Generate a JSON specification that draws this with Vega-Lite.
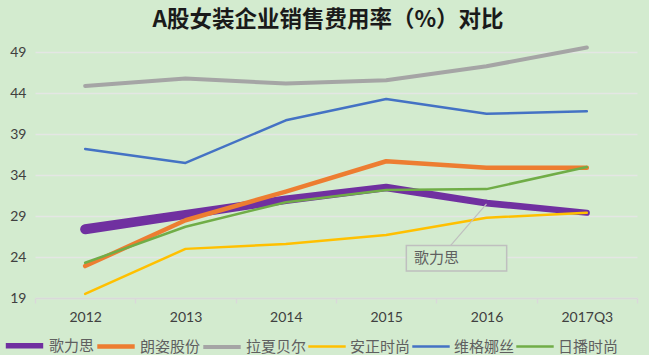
{
  "$schema": "https://vega.github.io/schema/vega-lite/v6.json",
  "width": 602,
  "height": 262,
  "autosize": "none",
  "padding": {"left": 35, "top": 36, "right": 12, "bottom": 57},
  "background": "#d3ebcf",
  "title": {"text": "A股女装企业销售费用率（%）对比", "fontSize": 22.5, "font": "Noto Sans CJK SC", "fontWeight": "bold", "color": "#1a1a1a", "anchor": "middle", "offset": 5, "dx": -8},
  "config": {"view": {"stroke": null}},
  "datasets": {
    "main": [
      {"year": "2012", "company": "歌力思", "rate": 27.4},
      {"year": "2013", "company": "歌力思", "rate": 29.2},
      {"year": "2014", "company": "歌力思", "rate": 31.0},
      {"year": "2015", "company": "歌力思", "rate": 32.5},
      {"year": "2016", "company": "歌力思", "rate": 30.6},
      {"year": "2017Q3", "company": "歌力思", "rate": 29.4},
      {"year": "2012", "company": "朗姿股份", "rate": 22.9},
      {"year": "2013", "company": "朗姿股份", "rate": 28.5},
      {"year": "2014", "company": "朗姿股份", "rate": 32.0},
      {"year": "2015", "company": "朗姿股份", "rate": 35.7},
      {"year": "2016", "company": "朗姿股份", "rate": 34.9},
      {"year": "2017Q3", "company": "朗姿股份", "rate": 34.9},
      {"year": "2012", "company": "拉夏贝尔", "rate": 44.9},
      {"year": "2013", "company": "拉夏贝尔", "rate": 45.8},
      {"year": "2014", "company": "拉夏贝尔", "rate": 45.2},
      {"year": "2015", "company": "拉夏贝尔", "rate": 45.6},
      {"year": "2016", "company": "拉夏贝尔", "rate": 47.3},
      {"year": "2017Q3", "company": "拉夏贝尔", "rate": 49.6},
      {"year": "2012", "company": "安正时尚", "rate": 19.5},
      {"year": "2013", "company": "安正时尚", "rate": 25.0},
      {"year": "2014", "company": "安正时尚", "rate": 25.6},
      {"year": "2015", "company": "安正时尚", "rate": 26.7},
      {"year": "2016", "company": "安正时尚", "rate": 28.8},
      {"year": "2017Q3", "company": "安正时尚", "rate": 29.4},
      {"year": "2012", "company": "维格娜丝", "rate": 37.2},
      {"year": "2013", "company": "维格娜丝", "rate": 35.5},
      {"year": "2014", "company": "维格娜丝", "rate": 40.7},
      {"year": "2015", "company": "维格娜丝", "rate": 43.3},
      {"year": "2016", "company": "维格娜丝", "rate": 41.5},
      {"year": "2017Q3", "company": "维格娜丝", "rate": 41.8},
      {"year": "2012", "company": "日播时尚", "rate": 23.3},
      {"year": "2013", "company": "日播时尚", "rate": 27.7},
      {"year": "2014", "company": "日播时尚", "rate": 30.7},
      {"year": "2015", "company": "日播时尚", "rate": 32.2},
      {"year": "2016", "company": "日播时尚", "rate": 32.3},
      {"year": "2017Q3", "company": "日播时尚", "rate": 35.0}
    ],
    "note": [
      {"year": "2016", "label": "歌力思", "rate": 30.5, "top": 25.4, "bottom": 22.3, "mid": 23.85}
    ]
  },
  "encoding": {
    "x": {"field": "year", "type": "ordinal", "scale": {"type": "band", "paddingInner": 0, "paddingOuter": 0},
          "axis": {"title": null, "labelAngle": 0, "labelFont": "Lato", "labelFontSize": 14, "labelColor": "#404040", "labelPadding": 7, "domainColor": "#d9d9d9", "domainWidth": 1.5, "tickColor": "#d9d9d9", "tickSize": 5, "tickWidth": 1.5, "tickBand": "extent", "grid": false}},
    "y": {"field": "rate", "type": "quantitative", "scale": {"domain": [19, 51], "nice": false, "zero": false},
          "axis": {"title": null, "values": [19, 24, 29, 34, 39, 44, 49], "labelFont": "Lato", "labelFontSize": 14, "labelColor": "#404040", "labelPadding": 9, "domain": false, "ticks": false, "gridColor": "#e4e6e4", "gridWidth": 1.5}}
  },
  "layer": [
    {
      "data": {"name": "main"},
      "transform": [{"filter": "datum.company === '歌力思'"}],
      "mark": {"type": "trail"},
      "encoding": {
        "color": {"field": "company", "type": "nominal"},
        "size": {"field": "year", "type": "ordinal", "scale": {"type": "ordinal", "domain": ["2012", "2013", "2014", "2015", "2016", "2017Q3"], "range": [10, 9.2, 8.4, 7.6, 6.8, 6]}, "legend": null},
        "order": {"field": "year"}
      }
    },
    {
      "data": {"name": "main"},
      "transform": [{"filter": "datum.company !== '歌力思'"}],
      "mark": {"type": "line", "strokeCap": "round", "strokeJoin": "round"},
      "encoding": {
        "color": {"field": "company", "type": "nominal",
                  "scale": {"domain": ["歌力思", "朗姿股份", "拉夏贝尔", "安正时尚", "维格娜丝", "日播时尚"], "range": ["#7030a0", "#ed7d31", "#a5a5a5", "#ffc000", "#4472c4", "#70ad47"]},
                  "legend": {"title": null, "orient": "none", "legendX": -32, "legendY": 288, "direction": "horizontal", "symbolType": "stroke", "symbolSize": 1400, "labelFont": "Noto Sans CJK SC", "labelFontSize": 15, "labelColor": "#5f5f5f", "labelOffset": 3, "columnPadding": -8, "symbolStrokeColor": {"expr": "datum.value"}}},
        "strokeWidth": {"field": "company", "type": "nominal",
                  "scale": {"type": "ordinal", "domain": ["歌力思", "朗姿股份", "拉夏贝尔", "安正时尚", "维格娜丝", "日播时尚"], "range": [5.5, 4.5, 4, 2.5, 2.5, 2.5]}},
        "order": {"field": "year"}
      }
    },
    {
      "data": {"name": "note"},
      "mark": {"type": "rule", "color": "#bfbfbf", "strokeWidth": 1.2, "x2Offset": -36},
      "encoding": {
        "x2": {"field": "year"},
        "y2": {"field": "top"}
      }
    },
    {
      "data": {"name": "note"},
      "mark": {"type": "rect", "fill": "#d3ebcf", "stroke": "#bfbfbf", "strokeWidth": 1.5, "xOffset": -30, "x2Offset": -72},
      "encoding": {
        "y": {"field": "top", "type": "quantitative"},
        "y2": {"field": "bottom"}
      }
    },
    {
      "data": {"name": "note"},
      "mark": {"type": "text", "font": "Noto Sans CJK SC", "fontSize": 15, "color": "#5f5f5f", "dx": -50},
      "encoding": {
        "y": {"field": "mid", "type": "quantitative"},
        "text": {"field": "label"}
      }
    }
  ]
}
